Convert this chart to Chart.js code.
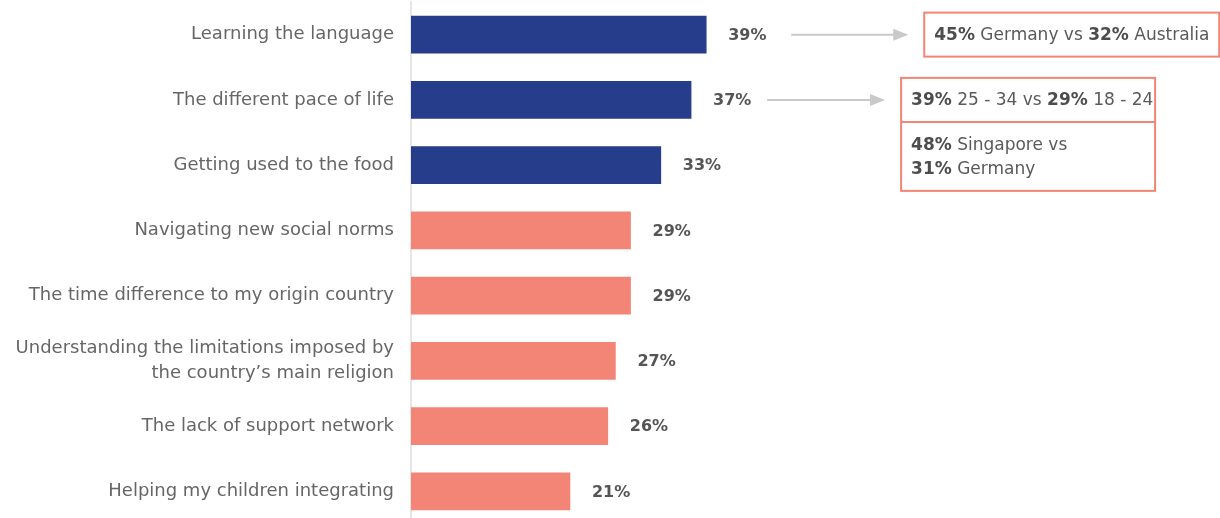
<!DOCTYPE html>
<html lang="en">

<head>
    <meta charset="UTF-8">
    <title>Challenges abroad</title>
    <style>
        body { margin: 0; overflow: hidden; background: #fff; }
        #wrap { width: 1220px; height: 526px; }
    </style>
</head>

<body>
    <div id="wrap"><canvas id="myChart"></canvas></div>

    <script src="https://cdn.jsdelivr.net/npm/chart.js"></script>
    <script>
        const categories = [
            'Learning the language',
            'The different pace of life',
            'Getting used to the food',
            'Navigating new social norms',
            'The time difference to my origin country',
            ['Understanding the limitations imposed by', 'the country\u2019s main religion'],
            'The lack of support network',
            'Helping my children integrating'
        ];
        const values = [39, 37, 33, 29, 29, 27, 26, 21];
        const highlighted = [true, true, true, false, false, false, false, false];

        // callout texts, each section is a list of lines, each line a list of [text, bold]
        const callout1 = [
            [[['45%', true], [' Germany vs ', false], ['32%', true], [' Australia', false]]]
        ];
        const callout2 = [
            [[['39%', true], [' 25 - 34 vs ', false], ['29%', true], [' 18 - 24', false]]],
            [[['48%', true], [' Singapore vs', false]], [['31%', true], [' Germany', false]]]
        ];

        const FONT = "'DejaVu Sans', sans-serif";
        const NAVY = '#253d8b';
        const SALMON = '#f38576';

        const callouts = [
            { row: 0, sections: callout1, arrowFrom: 85, arrowTo: 202, boxGap: 16, boxWidth: 295 },
            { row: 1, sections: callout2, arrowFrom: 76, arrowTo: 194, boxGap: 16, boxWidth: 254 }
        ];

        function drawRich(ctx, line, x, y) {
            line.forEach(([txt, bold]) => {
                ctx.font = (bold ? 'bold ' : '') + '17px ' + FONT;
                ctx.fillStyle = bold ? '#4d4d4d' : '#5a5a5a';
                ctx.fillText(txt, x, y);
                x += ctx.measureText(txt).width;
            });
        }

        const labelsPlugin = {
            id: 'labels',
            afterDatasetsDraw(chart) {
                const ctx = chart.ctx;
                const bars = chart.getDatasetMeta(0).data;
                ctx.save();
                ctx.textBaseline = 'middle';
                ctx.textAlign = 'left';
                // value labels
                ctx.font = 'bold 16px ' + FONT;
                ctx.fillStyle = '#555';
                bars.forEach((bar, i) => {
                    ctx.fillText(values[i] + '%', bar.x + 22, bar.y + 1);
                });

                // arrows + boxes
                callouts.forEach(c => {
                    const bar = bars[c.row];
                    const y = bar.y;
                    const x0 = bar.x + c.arrowFrom;
                    const x1 = bar.x + c.arrowTo;
                    ctx.strokeStyle = '#c9c9c9';
                    ctx.fillStyle = '#c9c9c9';
                    ctx.lineWidth = 2;
                    ctx.beginPath();
                    ctx.moveTo(x0, y);
                    ctx.lineTo(x1 - 12, y);
                    ctx.stroke();
                    ctx.beginPath();
                    ctx.moveTo(x1, y);
                    ctx.lineTo(x1 - 15, y - 6);
                    ctx.lineTo(x1 - 15, y + 6);
                    ctx.closePath();
                    ctx.fill();

                    const bx = x1 + c.boxGap;
                    let top = y - 22;
                    const startTop = top;
                    const dividers = [];
                    c.sections.forEach((lines, si) => {
                        const h = lines.length === 1 ? 44 : 69;
                        const mid = top + h / 2;
                        lines.forEach((line, li) => {
                            const ly = mid + (li - (lines.length - 1) / 2) * 24 + 1;
                            drawRich(ctx, line, bx + 10, ly);
                        });
                        top += h;
                        if (si < c.sections.length - 1) dividers.push(top);
                    });
                    ctx.strokeStyle = SALMON;
                    ctx.lineWidth = 2;
                    ctx.strokeRect(bx, startTop, c.boxWidth, top - startTop);
                    dividers.forEach(dy => {
                        ctx.beginPath();
                        ctx.moveTo(bx, dy);
                        ctx.lineTo(bx + c.boxWidth, dy);
                        ctx.stroke();
                    });
                });
                ctx.restore();
            }
        };

        const canvas = document.getElementById('myChart');

        const chart = new Chart(canvas, {
            type: 'bar',
            data: {
                labels: categories,
                datasets: [{
                    data: values,
                    backgroundColor: highlighted.map(h => h ? NAVY : SALMON),
                    barThickness: 37
                }]
            },
            options: {
                indexAxis: 'y',
                responsive: true,
                maintainAspectRatio: false,
                animation: false,
                layout: { padding: { top: 2, bottom: 2, left: 0, right: 52 } },
                plugins: {
                    legend: { display: false },
                    tooltip: { enabled: false }
                },
                scales: {
                    x: { display: false, min: 0, max: 100 },
                    y: {
                        grid: { display: false },
                        border: { display: true, color: '#e6e6e6', width: 2 },
                        ticks: {
                            padding: 9,
                            color: '#666',
                            font: { family: FONT, size: 18, lineHeight: 1.35 }
                        },
                        afterFit: (scale) => {
                            scale.width = 411;
                            // labels sit inside their rows, no extra room needed
                            scale.paddingTop = 0;
                            scale.paddingBottom = 0;
                        }
                    }
                }
            },
            plugins: [labelsPlugin]
        });
    </script>
</body>

</html>
